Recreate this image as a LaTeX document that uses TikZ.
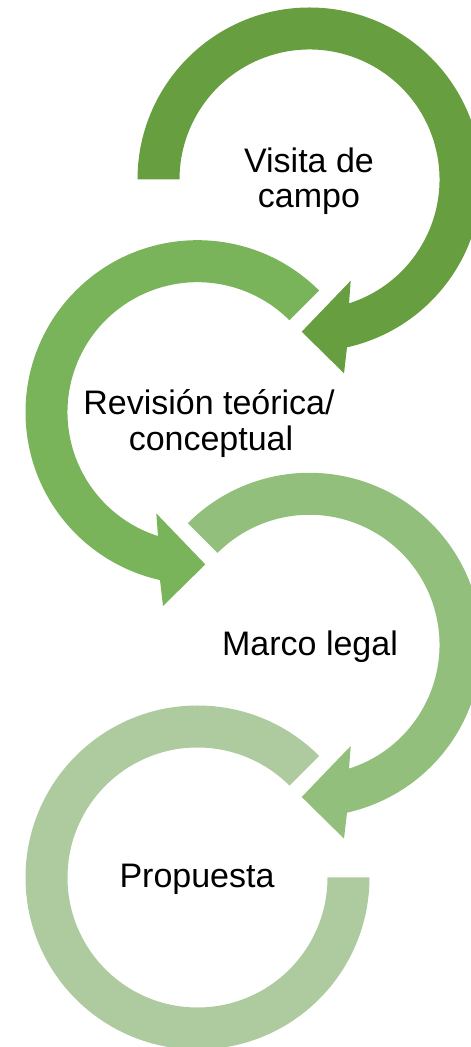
\documentclass[tikz,border=0pt]{standalone}
\usepackage{fontspec}
\setmainfont{Liberation Sans}

\definecolor{ringA}{RGB}{102,158,64}
\definecolor{ringB}{RGB}{122,180,90}
\definecolor{ringC}{RGB}{146,191,124}
\definecolor{ringD}{RGB}{173,203,159}

\tikzset{
  % ring segment ending in an arrowhead; #1 = start angle (clockwise sweep)
  pics/headring/.style={code={
    \path[pic actions] (#1:172) arc[start angle=#1, end angle=-77.4, radius=172]
      -- (34.5,-193.8) -- (-7.8,-152.2) -- (41.2,-101.2)
      -- (-72.3:130) arc[start angle=-72.3, end angle=#1, radius=130] -- cycle;
  }},
  % ring segment ending with a straight horizontal cut
  pics/tailring/.style={code={
    \path[pic actions] (#1:172) arc[start angle=#1, end angle=-180, radius=172]
      -- (-180:130) arc[start angle=-180, end angle=#1, radius=130] -- cycle;
  }},
  steplabel/.style={font=\fontsize{34}{37}\selectfont, anchor=base, inner sep=0pt, text=black}
}

\begin{document}
\begin{tikzpicture}[x=1pt, y=1pt]
  \useasboundingbox (0,0) rectangle (471,1047);
  \clip (0,0) rectangle (471,1047);

  % the four looping arrows, alternating direction
  \pic[fill=ringD, xscale=-1] at (197.5,169.5) {tailring=135};
  \pic[fill=ringC] at (309.5,402.2) {headring=135};
  \pic[fill=ringB, xscale=-1] at (197.5,634.8) {headring=135};
  \pic[fill=ringA] at (309.5,867.5) {headring=180};

  % step labels
  \node[steplabel] (visita1) at (309,874) {Visita de};
  \node[steplabel] (visita2) at (309,839) {campo};
  \node[steplabel] (revision1) at (209,632) {Revisión teórica/};
  \node[steplabel] (revision2) at (211,596) {conceptual};
  \node[steplabel] (marco) at (310,391) {Marco legal};
  \node[steplabel] (propuesta) at (197,159) {Propuesta};
\end{tikzpicture}
\end{document}
